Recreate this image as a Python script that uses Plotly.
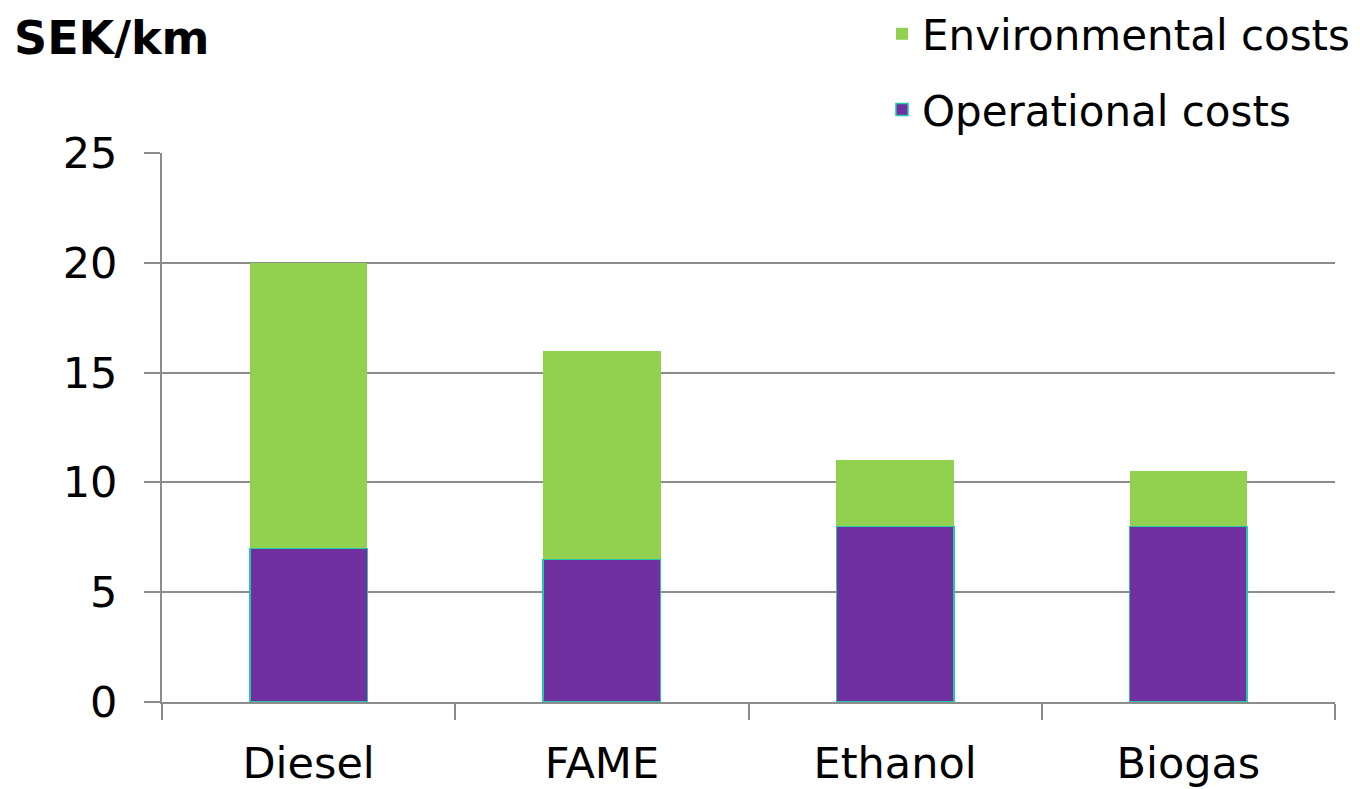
import plotly.graph_objects as go

categories = ["Diesel", "FAME", "Ethanol", "Biogas"]
operational = [7, 6.5, 8, 8]
environmental = [13, 9.5, 3, 2.5]
y_ticks = [0, 5, 10, 15, 20, 25]

FONT = "DejaVu Sans"
GRID = "#8c8c8c"
W, H = 1352, 781  # page body adds an 8px offset

fig = go.Figure()
fig.add_trace(go.Bar(
    x=categories, y=operational, name="Operational costs",
    marker=dict(color="#7030A0", line=dict(color="#22C8A8", width=1.5)),
    width=0.4, legendgroup="op", legendrank=2,
))
fig.add_trace(go.Bar(
    x=categories, y=environmental, name="Environmental costs",
    marker=dict(color="#92D050", line=dict(width=0)),
    width=0.4, legendgroup="env", legendrank=1,
))

fig.update_layout(
    width=W, height=H,
    barmode="stack",
    plot_bgcolor="white", paper_bgcolor="white",
    margin=dict(l=154, r=25, t=145, b=87, autoexpand=False),
    font=dict(family=FONT, size=42, color="black"),
    showlegend=True,
    legend=dict(
        x=(874 - 154) / 1173, xanchor="left",
        y=(694 + 8) / 549, yanchor="top",
        traceorder="grouped", tracegroupgap=18,
        font=dict(family=FONT, size=42, color="black"),
        bgcolor="rgba(0,0,0,0)",
    ),
    xaxis=dict(
        type="category", automargin=False,
        showline=True, linecolor=GRID, linewidth=2,
        ticks="outside", tickson="boundaries", ticklen=16,
        tickcolor=GRID, tickwidth=2,
        showgrid=False,
        tickfont=dict(family=FONT, size=43, color="black"),
        ticklabelstandoff=22,
    ),
    yaxis=dict(
        range=[0, 25], tickvals=y_ticks, automargin=False,
        showgrid=True, gridcolor=GRID, gridwidth=2,
        zeroline=False,
        showline=True, linecolor=GRID, linewidth=2,
        ticks="outside", ticklen=16, tickcolor=GRID, tickwidth=2,
        tickfont=dict(family=FONT, size=43, color="black"),
        ticklabelstandoff=18,
    ),
    annotations=[dict(
        text="<b>SEK/km</b>", xref="paper", yref="paper",
        x=(12 - 162) / 1173, y=(702 - 38) / 549,
        xanchor="left", yanchor="middle", showarrow=False,
        font=dict(family=FONT, size=46, color="black"),
    )],
)

fig.write_html("out.html")
